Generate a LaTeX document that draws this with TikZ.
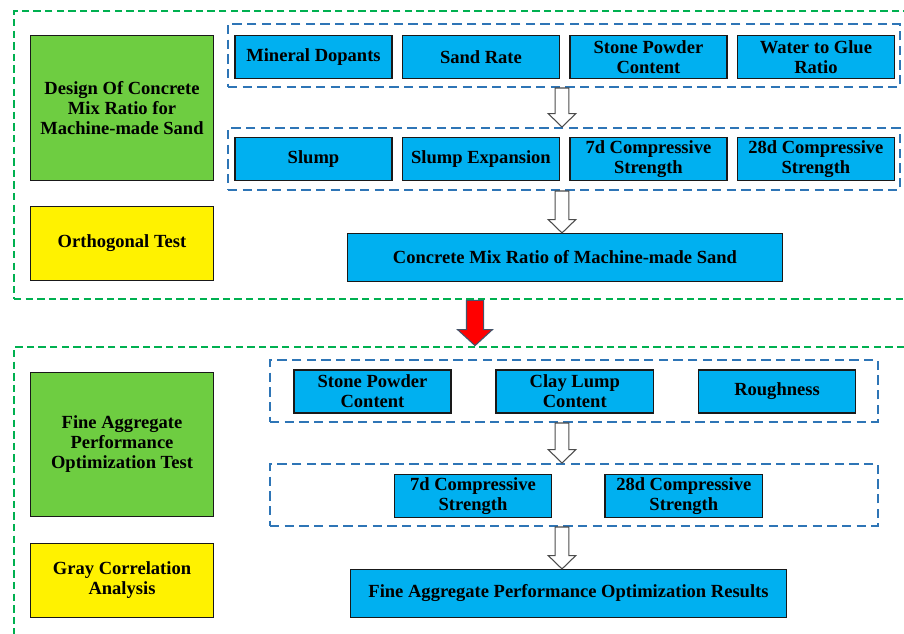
\documentclass[tikz,border=0pt]{standalone}
\usepackage{fontspec}
\setmainfont{Liberation Serif}
\usetikzlibrary{positioning,calc}
\definecolor{cellblue}{RGB}{0,176,240}
\definecolor{leafgreen}{RGB}{110,205,65}
\definecolor{stagegreen}{RGB}{0,176,80}
\definecolor{groupblue}{RGB}{46,117,182}
\definecolor{edgegray}{RGB}{68,84,106}
\tikzset{
  txt/.style={font=\fontsize{13.9}{15}\selectfont\bfseries,align=center,text=black},
  % filled boxes
  cell/.style={txt,draw=black!90,line width=1.1pt,fill=cellblue,inner sep=1pt,
    minimum width=118pt,minimum height=32pt},
  side/.style={cell,fill=leafgreen,minimum width=137pt,minimum height=108.5pt},
  note/.style={cell,fill=yellow,minimum width=137pt,minimum height=55.25pt},
  result/.style={cell,minimum width=326pt,minimum height=35.75pt},
  % dashed frames
  stage/.style={draw=stagegreen,line width=2.1pt,dash pattern=on 5.5pt off 3.2pt},
  group/.style={draw=groupblue,line width=1.5pt,dash pattern=on 7pt off 4pt,
    minimum height=46.5pt},
  % block arrows
  hollow/.style={draw=black!70,fill=white,line width=.8pt,line join=miter},
  redarrow/.style={draw=edgegray,fill=red,line width=.8pt,line join=miter}
}
% #2 from, #3 to, #4 half shaft, #5 half head, #6 head length
\newcommand\bigarrow[6][hollow]{%
  \draw[#1] let \p1=(#2), \p2=(#3) in
    (\x1-#4,\y1) -- (\x1+#4,\y1) -- (\x1+#4,\y2+#6) -- (\x1+#5,\y2+#6)
    -- (\x1,\y2) -- (\x1-#5,\y2+#6) -- (\x1-#4,\y2+#6) -- cycle;}

\begin{document}
\begin{tikzpicture}[x=0.75pt,y=-0.75pt]
  \clip (0,0) rectangle (904,633);
  \useasboundingbox (0,0) rectangle (904,633);

  %--- outer stages
  \node[stage,minimum width=672pt,minimum height=216pt] (stageA) at (462,155) {};
  \node[stage,minimum width=672pt,minimum height=219.75pt] (stageB) at (462,493.5) {};

  %--- left column
  \node[side] (design) at (122,108) {Design Of Concrete\\Mix Ratio for\\Machine-made Sand};
  \node[note] (ortho)  at (122,243.5) {Orthogonal Test};
  \node[side,minimum height=107.75pt] (fineTest) at (122,444.5) {Fine Aggregate\\Performance\\Optimization Test};
  \node[note] (gray)   at (122,580.5) {Gray Correlation\\Analysis};

  %--- upper stage: factors
  \node[group,minimum width=504pt,minimum height=47.25pt] (grpA) at (564,55.5) {};
  \node[cell] (mineral) at (313.5,57) {Mineral Dopants};
  \node[cell,right=6.5pt of mineral] (sandRate) {Sand Rate};
  \node[cell,right=6.5pt of sandRate] (stonePowderA) {Stone Powder\\Content};
  \node[cell,right=6.5pt of stonePowderA] (waterGlue) {Water to Glue\\Ratio};

  %--- upper stage: indices
  \node[group,minimum width=504pt] (grpB) at (564,159) {};
  \node[cell] (slump) at (313.5,159) {Slump};
  \node[cell,right=6.5pt of slump] (slumpExp) {Slump Expansion};
  \node[cell,right=6.5pt of slumpExp] (sevenA) {7d Compressive\\Strength};
  \node[cell,right=6.5pt of sevenA] (twentyA) {28d Compressive\\Strength};

  \node[result] (mixRatio) at (565,257.5) {Concrete Mix Ratio of Machine-made Sand};

  %--- lower stage: factors
  \node[group,minimum width=456pt] (grpC) at (574,391) {};
  \node[cell] (stonePowderB) at (372.5,391.5) {Stone Powder\\Content};
  \node[cell,right=32.6pt of stonePowderB] (clayLump) {Clay Lump\\Content};
  \node[cell,right=32.6pt of clayLump] (rough) {Roughness};

  %--- lower stage: indices
  \node[group,minimum width=456pt] (grpD) at (574,495) {};
  \node[cell] (sevenB) at (473,496) {7d Compressive\\Strength};
  \node[cell,right=39pt of sevenB] (twentyB) {28d Compressive\\Strength};

  \node[result,minimum width=326.75pt] (optResult) at (568.5,593.5) {Fine Aggregate Performance Optimization Results};

  %--- flow arrows
  \coordinate (axis) at (562,0);
  \coordinate (redAxis) at (475,0);
  \bigarrow{grpA.south -| axis}{grpB.north -| axis}{5.2pt}{10.3pt}{10pt}
  \bigarrow{grpB.south -| axis}{mixRatio.north -| axis}{5.2pt}{10.3pt}{10pt}
  \bigarrow{grpC.south -| axis}{grpD.north -| axis}{5.2pt}{10.3pt}{10pt}
  \bigarrow{grpD.south -| axis}{optResult.north -| axis}{5.2pt}{10.3pt}{10pt}
  \bigarrow[redarrow]{stageA.south -| redAxis}{stageB.north -| redAxis}{6.4pt}{13.1pt}{12pt}
\end{tikzpicture}
\end{document}
